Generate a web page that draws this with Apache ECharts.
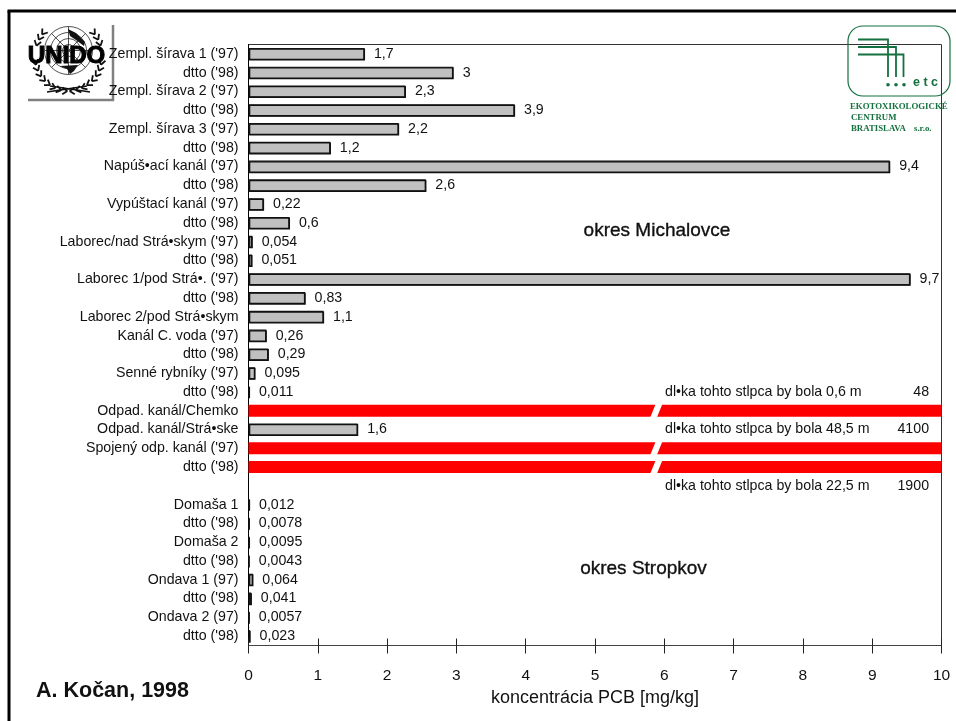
<!DOCTYPE html>
<html><head><meta charset="utf-8">
<style>html,body{margin:0;padding:0;background:#fff}#c{width:956px;height:721px}</style>
<script src="https://cdn.jsdelivr.net/npm/echarts@6/dist/echarts.min.js"></script>
</head><body><div id="c"></div>
<script>
const categories = ["Zempl. šírava 1 ('97)","dtto ('98)","Zempl. šírava 2 ('97)","dtto ('98)","Zempl. šírava 3 ('97)","dtto ('98)","Napúš•ací kanál ('97)","dtto ('98)","Vypúštací kanál ('97)","dtto ('98)","Laborec/nad Strá•skym ('97)","dtto ('98)","Laborec 1/pod Strá•. ('97)","dtto ('98)","Laborec 2/pod Strá•skym","Kanál C. voda ('97)","dtto ('98)","Senné rybníky ('97)","dtto ('98)","Odpad. kanál/Chemko","Odpad. kanál/Strá•ske","Spojený odp. kanál ('97)","dtto ('98)"," ","Domaša 1","dtto ('98)","Domaša 2","dtto ('98)","Ondava 1 (97)","dtto ('98)","Ondava 2 (97)","dtto ('98)"];
const values = [1.7,3,2.3,3.9,2.2,1.2,9.4,2.6,0.22,0.6,0.054,0.051,9.7,0.83,1.1,0.26,0.29,0.095,0.011,48,1.6,4100,1900,null,0.012,0.0078,0.0095,0.0043,0.064,0.041,0.0057,0.023];
const brokenRows = [19,21,22];
const noteRows = [18,20,23];
const noteTexts = ["dl•ka tohto stlpca by bola 0,6 m","dl•ka tohto stlpca by bola 48,5 m","dl•ka tohto stlpca by bola 22,5 m"];
const noteValues = ["48","4100","1900"];
const FONT = '"Liberation Sans", Arial, sans-serif';
const GREEN = '#14703f';

function emblem(){
  const cx=68.5, cy=50.5, r=24, out=[];
  const line={stroke:'#222',lineWidth:0.8,fill:null};
  [r,r*0.75,r*0.5,r*0.25].forEach(x=>out.push({type:'circle',shape:{cx,cy,r:x},style:line,silent:true}));
  for(let i=0;i<8;i++){const a=i*Math.PI/4;out.push({type:'line',shape:{x1:cx,y1:cy,x2:cx+r*Math.cos(a),y2:cy+r*Math.sin(a)},style:line,silent:true});}
  out.push({type:'polygon',shape:{points:[[68,29],[76,33],[85,42],[84,46],[76,40],[70,36]]},style:{fill:'#111'},silent:true});
  out.push({type:'polygon',shape:{points:[[60,66],[78,65],[74,71],[70,74],[67,69]]},style:{fill:'#111'},silent:true});
  const ex=68.5, ey=56, rx=33.5, ry=35;
  [-1,1].forEach(s=>{
    for(let k=0;k<13;k++){
      const t=(-38+k*10.5)*Math.PI/180;
      if(t>-0.2&&t<0.25) continue;
      const px=ex+s*rx*Math.cos(t), py=ey+ry*Math.sin(t);
      const tx=-s*rx*Math.sin(t), ty=ry*Math.cos(t), n=Math.hypot(tx,ty);
      const ux=tx/n, uy=ty/n;
      [0.6,-0.6].forEach(rot=>{
        const vx=ux*Math.cos(rot)-uy*Math.sin(rot), vy=ux*Math.sin(rot)+uy*Math.cos(rot);
        out.push({type:'line',shape:{x1:px,y1:py,x2:px-vx*6,y2:py-vy*6},style:{stroke:'#111',lineWidth:1.8},silent:true});
      });
    }
  });
  out.push({type:'line',shape:{x1:50,y1:86,x2:90,y2:92},style:{stroke:'#111',lineWidth:1.6},silent:true});
  out.push({type:'line',shape:{x1:87,y1:86,x2:47,y2:92},style:{stroke:'#111',lineWidth:1.6},silent:true});
  out.push({type:'text',x:66.5,y:56,style:{text:'UNIDO',font:'bold 24px "Liberation Sans"',fill:'#000',stroke:'#000',lineWidth:1,align:'center',verticalAlign:'middle'},silent:true});
  return out;
}
function etcLogo(){
  const ln={stroke:GREEN,lineWidth:1.8,fill:null}, o=[];
  o.push({type:'rect',shape:{x:848,y:26,width:102,height:70,r:15},style:{stroke:GREEN,lineWidth:1.2,fill:null},silent:true,z:20});
  [[858,39.5,888,39.5,888,77],[858,47,896,47,896,77],[858,54.5,903.5,54.5,903.5,77]].forEach(p=>{
    o.push({type:'polyline',shape:{points:[[p[0],p[1]],[p[2],p[3]],[p[4],p[5]]]},style:ln,silent:true,z:20});
  });
  [888,896,904].forEach(x=>o.push({type:'circle',shape:{cx:x,cy:84.7,r:1.8},style:{fill:GREEN},silent:true,z:20}));
  o.push({type:'text',x:913,y:82.7,style:{text:'e t c',font:'bold 12.5px "Liberation Sans"',fill:GREEN,verticalAlign:'middle'},silent:true,z:20});
  [['EKOTOXIKOLOGICKÉ',850,107],['CENTRUM',851,118],['BRATISLAVA',851,129],['s.r.o.',914,129]].forEach(t=>{
    o.push({type:'text',x:t[1],y:t[2],style:{text:t[0],font:'bold 8.8px "Liberation Serif"',fill:GREEN,verticalAlign:'middle'},silent:true,z:20});
  });
  return o;
}
const chart = echarts.init(document.getElementById('c'),null,{renderer:'canvas'});
chart.setOption({
  animation:false,
  backgroundColor:'#fff',
  grid:{left:248.5,top:44.5,width:693,height:601,show:true,borderColor:'#333',borderWidth:1,backgroundColor:'transparent'},
  xAxis:[{
    type:'value',min:0,max:10,interval:1,position:'bottom',
    axisLine:{show:true,onZero:false,lineStyle:{color:'#444',width:1}},
    axisTick:{show:true,length:8,lineStyle:{color:'#222',width:1}},
    axisLabel:{margin:22,fontFamily:FONT,fontSize:15.5,color:'#111',formatter:v=>String(v)},
    splitLine:{show:false},
    name:'koncentrácia PCB [mg/kg]',nameLocation:'middle',nameGap:44,
    nameTextStyle:{fontFamily:FONT,fontSize:18,color:'#111'}
  },{
    type:'value',min:0,max:10,interval:1,position:'bottom',
    axisLine:{show:false},axisTick:{show:true,inside:true,length:7,lineStyle:{color:'#222',width:1}},
    axisLabel:{show:false},splitLine:{show:false}
  },{
    type:'value',min:0,max:10.16,show:false
  }],
  yAxis:{
    type:'category',inverse:true,data:categories,
    axisLine:{show:true,onZero:false,lineStyle:{color:'#000',width:1}},
    axisTick:{show:false},
    axisLabel:{interval:0,margin:10,fontFamily:FONT,fontSize:14.2,color:'#111'}
  },
  series:[{
    type:'bar',barWidth:12,clip:true,xAxisIndex:2,
    data:values.map((v,i)=>brokenRows.includes(i)
      ?{value:v,itemStyle:{color:'#ff0000',borderWidth:0,shadowBlur:0,shadowColor:'transparent'},label:{show:false}}
      :v),
    itemStyle:{color:'#c0c0c0',borderColor:'#111',borderWidth:1.2,shadowColor:'#111',shadowOffsetX:0.6,shadowOffsetY:0.6,shadowBlur:0},
    label:{show:true,position:'right',distance:9.5,fontFamily:FONT,fontSize:14.2,color:'#111',
      formatter:p=>p.value==null?'':String(p.value).replace('.',',')}
  },{
    type:'custom',coordinateSystem:'cartesian2d',z:5,silent:true,
    data:brokenRows.map(r=>[5.87,r]),
    renderItem:(params,api)=>{
      const c=api.coord([api.value(0),api.value(1)]);
      const h=7;
      return {type:'polygon',shape:{points:[[c[0]+0.5,c[1]-h],[c[0]+7.2,c[1]-h],[c[0]+1.5,c[1]+h],[c[0]-5.2,c[1]+h]]},style:{fill:'#fff'}};
    }
  },{
    type:'custom',coordinateSystem:'cartesian2d',z:6,silent:true,
    data:noteRows.map((r,i)=>[6.01,r,i]),
    renderItem:(params,api)=>{
      const i=api.value(2);
      const c=api.coord([api.value(0),api.value(1)]);
      const e=api.coord([9.82,api.value(1)]);
      return {type:'group',children:[
        {type:'text',x:c[0],y:c[1],style:{text:noteTexts[i],font:'14.2px "Liberation Sans"',fill:'#111',verticalAlign:'middle'}},
        {type:'text',x:e[0],y:e[1],style:{text:noteValues[i],font:'14.2px "Liberation Sans"',fill:'#111',align:'right',verticalAlign:'middle'}}
      ]};
    }
  }],
  graphic:[
    {type:'line',shape:{x1:9,y1:11,x2:9,y2:721},style:{stroke:'#000',lineWidth:3},silent:true},
    {type:'line',shape:{x1:7.5,y1:11,x2:956,y2:11},style:{stroke:'#000',lineWidth:3},silent:true},
    ...emblem(),
    {type:'line',shape:{x1:113,y1:25,x2:113,y2:101},style:{stroke:'#808080',lineWidth:2.5},silent:true},
    {type:'line',shape:{x1:28,y1:100,x2:114,y2:100},style:{stroke:'#808080',lineWidth:2.5},silent:true},
    ...etcLogo(),
    {type:'text',x:657,y:231,style:{text:'okres Michalovce',font:'19px "Liberation Sans"',fill:'#111',stroke:'#111',lineWidth:0.35,align:'center',verticalAlign:'middle'},silent:true},
    {type:'text',x:643.5,y:569,style:{text:'okres Stropkov',font:'19px "Liberation Sans"',fill:'#111',stroke:'#111',lineWidth:0.35,align:'center',verticalAlign:'middle'},silent:true},
    {type:'text',x:36,y:691.5,style:{text:'A. Kočan, 1998',font:'bold 21.5px "Liberation Sans"',fill:'#111',verticalAlign:'middle'},silent:true}
  ]
});
</script></body></html>
